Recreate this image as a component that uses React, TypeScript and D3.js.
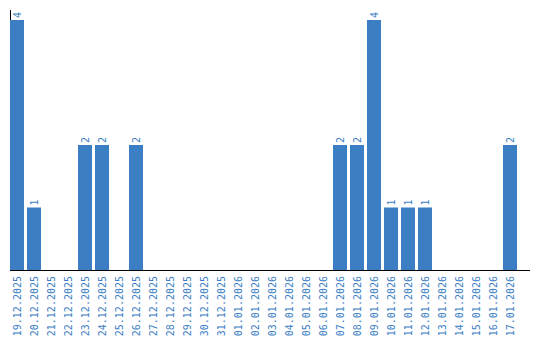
import React from "react";
import * as d3 from "d3";

const dates = [
  "19.12.2025","20.12.2025","21.12.2025","22.12.2025","23.12.2025","24.12.2025","25.12.2025","26.12.2025","27.12.2025","28.12.2025",
  "29.12.2025","30.12.2025","31.12.2025","01.01.2026","02.01.2026","03.01.2026","04.01.2026","05.01.2026","06.01.2026","07.01.2026",
  "08.01.2026","09.01.2026","10.01.2026","11.01.2026","12.01.2026","13.01.2026","14.01.2026","15.01.2026","16.01.2026","17.01.2026",
];
const counts = [4,1,0,0,2,2,0,2,0,0, 0,0,0,0,0,0,0,0,0,2, 2,4,1,1,1,0,0,0,0,2];

const W = 540, H = 340;
const left = 10, right = 530, top = 10, bottom = 270;
const color = "#3b7ec3";
const font = "'DejaVu Sans Mono', monospace";

export default function App() {
  const x = d3.scaleBand<string>().domain(dates).range([left, right]).paddingInner(0.176).paddingOuter(0).align(0).round(true);
  const maxV = d3.max(counts) as number;
  const y = d3.scaleLinear().domain([0, maxV * 1.04]).range([bottom, top]);
  return (
    <svg width={W} height={H} style={{ position: "absolute", left: 0, top: 0 }}>
      <line x1={left + 0.5} x2={left + 0.5} y1={top} y2={bottom} stroke="#000" />
      {dates.map((d, i) => {
        const v = counts[i];
        const bx = x(d) as number;
        const cx = bx + x.bandwidth() / 2;
        return (
          <g key={d}>
            {v > 0 && (
              <rect x={bx} y={y(v)} width={x.bandwidth()} height={bottom - y(v)} fill={color} />
            )}
            {v > 0 && (
              <text transform={`translate(${cx + 3.5},${y(v) - 2}) rotate(-90)`} fontFamily={font} fontSize={10} fill={color}>{v}</text>
            )}
            <text transform={`translate(${cx + 3.5},${bottom + 6}) rotate(-90)`} textAnchor="end" fontFamily={font} fontSize={10} fill={color}>{d}</text>
          </g>
        );
      })}
      <line x1={left} x2={right} y1={bottom + 0.5} y2={bottom + 0.5} stroke="#000" />
    </svg>
  );
}
